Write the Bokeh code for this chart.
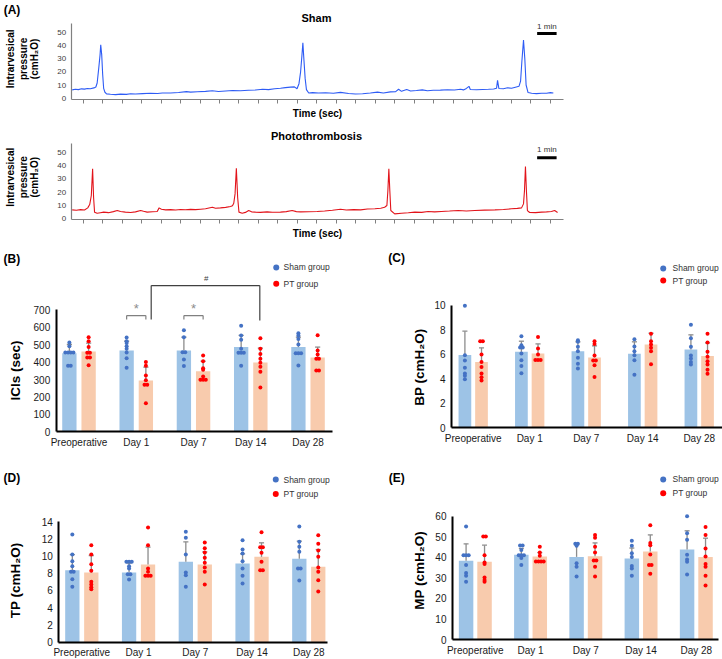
import numpy as np
from bokeh.plotting import figure
from bokeh.layouts import column, row
from bokeh.models import Label, FixedTicker, Range1d
from bokeh.embed import file_html
from bokeh.resources import INLINE

FONT = "Liberation Sans"
SHAM_BAR = "#9DC3E6"
PT_BAR = "#F8CBAD"
SHAM_DOT = "#4472C4"
PT_DOT = "#FF0000"
ERR = "#8C8C8C"
SHAM_LINE = "#2E5CF5"
PT_LINE = "#E2141B"

categories = ["Preoperative", "Day 1", "Day 7", "Day 14", "Day 28"]

# ---------------- (A) cystometry traces (time in s, pressure in cmH2O) ----------------
sham_time = [3, 13, 22, 32, 41, 50, 59, 70, 76, 80, 85, 89, 91, 94, 97, 100, 104, 109, 121, 137,
             152, 170, 183, 198, 220, 244, 266, 281, 306, 331, 355, 368, 389, 414, 435, 454, 476,
             497, 522, 546, 568, 590, 608, 627, 645, 660, 676, 688, 696, 702, 707, 711, 714, 717,
             721, 725, 732, 744, 762, 784, 808, 830, 855, 876, 898, 922, 944, 962, 984, 1000, 1009,
             1018, 1034, 1046, 1064, 1082, 1098, 1116, 1138, 1160, 1181, 1200, 1209, 1218, 1226,
             1230, 1249, 1268, 1286, 1302, 1311, 1314, 1318, 1332, 1345, 1357, 1369, 1380, 1385,
             1389, 1394, 1398, 1402, 1408, 1419, 1434, 1450, 1465, 1477, 1486]
sham_pressure = [6.3, 6.8, 6.5, 7.1, 6.9, 7.4, 7.2, 7.8, 8.5, 11.5, 23, 33, 40.5, 33, 18, 7.5, 4.5,
                 3.3, 3.0, 2.7, 3.1, 2.9, 3.4, 3.2, 3.5, 3.8, 3.6, 4.0, 3.9, 4.3, 5.0, 4.6, 4.9, 5.2,
                 5.6, 5.1, 5.5, 5.8, 5.6, 6.0, 6.2, 6.8, 6.5, 7.2, 7.6, 8.0, 8.4, 8.6, 7.2, 11, 20,
                 32, 42, 30, 15, 6.5, 3.9, 4.2, 3.9, 4.1, 3.7, 4.4, 3.6, 3.2, 3.4, 3.9, 4.6, 4.0, 4.8,
                 5.0, 6.8, 5.2, 6.6, 5.5, 5.8, 6.3, 5.7, 6.0, 6.1, 6.4, 6.2, 6.8, 6.3, 7.4, 9.0, 6.6,
                 6.4, 6.6, 6.8, 7.0, 7.6, 13.5, 7.4, 7.2, 7.9, 7.5, 8.3, 9.0, 13, 28, 44, 30, 10,
                 4.3, 3.7, 3.5, 3.7, 3.8, 4.2, 4.0]
pt_time = [3, 16, 29, 41, 51, 57, 62, 66, 69, 72, 80, 90, 100, 115, 130, 142, 152, 167, 183, 198,
           214, 223, 234, 251, 265, 271, 278, 291, 306, 322, 337, 352, 368, 383, 399, 414, 435, 445,
           460, 476, 491, 497, 501, 505, 509, 513, 517, 527, 537, 547, 556, 568, 583, 604, 620, 645,
           663, 681, 694, 707, 731, 758, 781, 805, 830, 848, 870, 892, 913, 936, 954, 966, 973, 976,
           979, 982, 985, 997, 1018, 1039, 1059, 1080, 1100, 1120, 1141, 1166, 1193, 1218, 1244,
           1274, 1306, 1332, 1357, 1375, 1388, 1394, 1397, 1400, 1403, 1406, 1413, 1431, 1450,
           1465, 1480, 1490, 1499]
pt_pressure = [6.7, 6.4, 6.9, 6.6, 8.2, 10.7, 17.5, 37.5, 16, 5, 4.2, 4.6, 5.0, 4.6, 5.4, 6.2, 5.5,
               5.0, 4.7, 5.2, 6.2, 5.6, 5.0, 5.3, 5.5, 8.2, 7.2, 6.7, 6.9, 6.6, 7.0, 6.8, 7.1, 6.9,
               7.2, 7.5, 8.7, 7.9, 8.2, 8.6, 9.2, 9.8, 11.7, 18.7, 38, 16, 5, 4.2, 4.8, 6.2, 5.2,
               5.0, 4.8, 5.2, 4.9, 5.0, 5.4, 6.2, 5.4, 5.2, 5.3, 5.5, 5.9, 6.4, 7.2, 6.6, 6.9, 6.7,
               7.3, 7.5, 7.9, 8.7, 10, 21, 37.5, 21, 6.2, 3.7, 4.2, 4.5, 5.0, 4.8, 5.5, 5.2, 5.5,
               5.8, 6.2, 5.9, 6.2, 6.5, 6.7, 7.0, 7.5, 7.8, 8.2, 11.2, 21, 39.3, 21, 6.2, 4.7, 4.6,
               5.0, 5.2, 5.5, 6.2, 4.7]
trace_yticks = [0, 10, 20, 30, 40, 50]
trace_xticks = [37, 97, 157, 217, 277, 337, 397, 457, 517, 577, 637, 697, 757, 817, 877, 937,
                997, 1057, 1117, 1177, 1237, 1297, 1357, 1417, 1477]

# ---------------- (B) ICIs (sec) ----------------
ici_sham_mean = [451, 466, 466, 486, 486]
ici_pt_mean = [461, 294, 348, 398, 426]
ici_sham_sd = [50, 54, 77, 67, 57]
ici_pt_sd = [48, 77, 57, 82, 60]
ici_sham_pts = [[512, 491, 455, 455, 455, 455, 379, 379],
                [541, 520, 510, 491, 476, 455, 422, 367],
                [583, 543, 457, 457, 415, 377],
                [608, 553, 528, 476, 453, 453, 453, 379],
                [566, 553, 533, 501, 451, 451, 451, 380]]
ici_pt_pts = [[543, 520, 486, 453, 453, 426, 426, 382],
              [400, 379, 323, 296, 270, 270, 164],
              [438, 405, 365, 356, 317, 298, 298, 298],
              [537, 476, 447, 419, 396, 373, 344, 254],
              [554, 466, 444, 419, 419, 352, 352]]
ici_yticks = [0, 100, 200, 300, 400, 500, 600, 700]

# ---------------- (C) BP ----------------
bp_sham_mean = [5.96, 6.21, 6.26, 6.05, 6.40]
bp_pt_mean = [5.39, 6.07, 5.75, 6.81, 5.88]
bp_sham_sd = [1.94, 0.87, 0.77, 0.98, 1.20]
bp_pt_sd = [1.15, 0.79, 0.95, 0.92, 1.06]
bp_sham_pts = [[9.97, 5.94, 5.5, 4.9, 4.44, 4.25, 3.97],
               [7.49, 6.75, 6.56, 6.56, 6.07, 5.53, 5.06, 4.46],
               [7.16, 7.03, 6.62, 6.26, 5.72, 5.23, 4.85],
               [7.24, 6.64, 6.26, 5.94, 5.53, 4.33],
               [8.42, 7.33, 6.62, 5.91, 5.66, 5.39, 5.17]]
bp_pt_pts = [[7.08, 7.08, 5.99, 5.39, 4.98, 4.44, 4.14, 3.86],
             [7.43, 6.48, 5.99, 5.55, 5.55, 5.55],
             [7.08, 6.86, 5.91, 5.5, 5.5, 5.12, 4.16],
             [7.7, 7.08, 6.81, 6.54, 6.26, 5.2],
             [7.68, 6.97, 6.21, 5.8, 5.45, 5.17, 4.74, 4.41]]
bp_yticks = [0, 2, 4, 6, 8, 10]

# ---------------- (D) TP ----------------
tp_sham_mean = [8.36, 8.09, 9.32, 9.13, 9.67]
tp_pt_mean = [8.09, 9.01, 9.01, 9.90, 8.74]
tp_sham_sd = [1.81, 1.10, 2.32, 1.12, 2.05]
tp_pt_sd = [1.97, 2.01, 1.47, 1.63, 2.01]
tp_sham_pts = [[12.5, 10.17, 9.4, 8.82, 8.16, 8.16, 7.31, 6.42],
               [9.32, 9.32, 9.32, 8.82, 8.55, 7.89, 7.89, 7.27],
               [12.8, 12.11, 10.17, 8.09, 7.78, 6.42],
               [11.84, 10.75, 10.29, 9.4, 8.55, 7.7, 6.81],
               [13.42, 11.64, 11.06, 10.48, 8.55, 8.55, 7.16]]
tp_pt_pts = [[11.26, 10.17, 9.05, 8.28, 7.0, 6.69, 6.38, 6.15],
             [13.31, 11.26, 8.55, 8.16, 7.7, 7.7, 7.7],
             [11.57, 10.91, 10.4, 9.79, 9.21, 8.67, 8.16, 6.69],
             [12.76, 11.02, 11.02, 10.37, 9.32, 8.36, 8.36],
             [12.42, 11.41, 10.64, 9.9, 8.67, 8.16, 7.2, 5.88]]
tp_yticks = [0, 2, 4, 6, 8, 10, 12, 14]

# ---------------- (E) MP ----------------
mp_sham_mean = [38.3, 41.2, 40.2, 39.4, 43.8]
mp_pt_mean = [37.8, 40.4, 40.55, 42.8, 40.1]
mp_sham_sd = [8.25, 3.1, 5.9, 5.1, 9.1]
mp_pt_sd = [8.1, 1.9, 6.45, 8.1, 9.2]
mp_sham_pts = [[55.0, 41.0, 41.0, 41.0, 36.2, 32.3, 31.0, 28.1],
               [45.7, 45.7, 43.5, 41.0, 41.0, 41.0, 39.6, 36.3],
               [46.6, 46.6, 45.6, 37.1, 35.4, 30.7],
               [48.0, 45.6, 42.0, 40.2, 35.8, 34.6, 31.0],
               [60.0, 51.7, 48.5, 41.2, 38.9, 37.8, 31.6]]
mp_pt_pts = [[50.1, 50.1, 41.0, 37.5, 36.8, 30.2, 28.9, 28.1],
             [45.1, 42.3, 40.7, 38.0, 38.0, 38.0, 38.0],
             [50.9, 49.5, 45.1, 42.3, 38.4, 38.4, 35.4, 30.7],
             [55.6, 47.0, 45.9, 41.4, 36.2, 36.2, 32.0],
             [54.7, 50.8, 44.3, 40.4, 36.7, 35.4, 31.0, 26.3]]
mp_yticks = [0, 10, 20, 30, 40, 50, 60]


def add_label(f, x, y, text, size, bold=False, align="left", baseline="middle",
              angle=0.0, color="#000000"):
    f.add_layout(Label(x=x, y=y, text=text, text_font=FONT, text_font_size=size,
                       text_font_style="bold" if bold else "normal", text_align=align,
                       text_baseline=baseline, angle=angle, text_color=color))


def base_fig(width, height, xr, yr):
    # the frame fills the whole canvas; axes are pinned with fixed_location
    f = figure(width=width, height=height, x_range=Range1d(*xr), y_range=Range1d(*yr),
               output_backend="svg", toolbar_location=None,
               min_border_left=0, min_border_right=0, min_border_top=0, min_border_bottom=0)
    f.outline_line_color = None
    f.title.visible = False
    f.xgrid.visible = False
    f.ygrid.visible = False
    f.background_fill_color = "white"
    f.border_fill_color = "white"
    for ax in (f.xaxis, f.yaxis):
        ax.minor_tick_line_color = None
        ax.major_label_text_font = FONT
        ax.major_tick_in = 0
        ax.major_tick_out = 0
    return f


def trace_fig(t, p, color, title, height, yr, ylab_y, title_y, time_y, bar_y, min_y, tag):
    f = base_fig(722, height, (-217.9, 2007.3), yr)
    f.line(t, p, line_color=color, line_width=1.1)
    f.xaxis.fixed_location = -0.75
    f.xaxis.bounds = (0, 1517)
    f.xaxis.ticker = FixedTicker(ticks=trace_xticks)
    f.xaxis.major_label_text_font_size = "1px"
    f.xaxis.major_label_text_alpha = 0
    f.xaxis.major_tick_out = 4
    f.xaxis.major_tick_line_color = "#808080"
    f.xaxis.axis_line_color = "#808080"
    f.xaxis.axis_line_width = 1.2
    f.yaxis.fixed_location = 0
    f.yaxis.bounds = (-0.75, 56.4)
    f.yaxis.ticker = FixedTicker(ticks=trace_yticks)
    f.yaxis.major_tick_line_color = None
    f.yaxis.axis_line_color = "#808080"
    f.yaxis.axis_line_width = 1.2
    f.yaxis.major_label_text_font_size = "8px"
    f.yaxis.major_label_text_color = "#404040"
    f.yaxis.major_label_standoff = 5
    # 1 min scale bar
    f.segment(x0=[1436], y0=[bar_y], x1=[1496], y1=[bar_y], line_color="black", line_width=3)
    add_label(f, 1466, min_y, "1 min", "8px", align="center", color="#333333")
    add_label(f, 756, title_y, title, "11px", bold=True, align="center")
    add_label(f, 759, time_y, "Time (sec)", "10px", bold=True, align="center")
    for xx, txt in ((-187, "Intrarvesical"), (-146, "pressure"), (-112, "(cmH\u2082O)")):
        add_label(f, xx, ylab_y, txt, "10px", bold=True, align="center", angle=np.pi / 2)
    if tag:
        add_label(f, -208, 67.2, tag, "12px", bold=True)
    return f


def spread(vals, center, step=0.047):
    counts = {}
    for v in vals:
        counts[v] = counts.get(v, 0) + 1
    seen = {}
    xs = []
    for v in vals:
        n = counts[v]
        k = seen.get(v, 0)
        seen[v] = k + 1
        xs.append(center + (k - (n - 1) / 2.0) * step)
    return xs


def bar_fig(cfg, sm, pm, ssd, psd, spts, ppts, yticks, ylabel, tag):
    f = base_fig(cfg["w"], cfg["h"], cfg["xr"], cfg["yr"])
    idx = np.arange(len(categories))
    off, bw, cap = cfg["off"], cfg["bw"], 0.045
    f.vbar(x=idx - off, top=sm, width=bw, fill_color=SHAM_BAR, line_color=None)
    f.vbar(x=idx + off, top=pm, width=bw, fill_color=PT_BAR, line_color=None)
    for xs, m, sd in ((idx - off, sm, ssd), (idx + off, pm, psd)):
        m = np.array(m, dtype=float)
        tops = m + np.array(sd, dtype=float)
        f.segment(x0=xs, y0=m, x1=xs, y1=tops, line_color=ERR, line_width=1.3)
        f.segment(x0=xs - cap, y0=tops, x1=xs + cap, y1=tops, line_color=ERR, line_width=1.3)
    for sign, pts, col in ((-1, spts, SHAM_DOT), (1, ppts, PT_DOT)):
        X, Y = [], []
        for i, vals in enumerate(pts):
            X += spread(vals, i + sign * off)
            Y += list(vals)
        f.scatter(X, Y, size=4, fill_color=col, line_color=None)
    # axes pinned at the data origin of the bar area
    x0, x1 = cfg["xaxis"]
    f.xaxis.fixed_location = 0
    f.xaxis.bounds = (x0, x1)
    f.yaxis.fixed_location = x0
    f.xaxis.ticker = FixedTicker(ticks=list(range(len(categories))))
    f.xaxis.major_label_overrides = {i: c for i, c in enumerate(categories)}
    f.yaxis.ticker = FixedTicker(ticks=yticks)
    f.yaxis.bounds = (yticks[0], yticks[-1])
    for ax in (f.xaxis, f.yaxis):
        ax.major_tick_line_color = None
        ax.axis_line_color = "black"
        ax.axis_line_width = 2
        ax.major_label_text_font_size = "10px"
        ax.major_label_text_color = "#1a1a1a"
    f.xaxis.major_label_standoff = 5
    f.yaxis.major_label_standoff = 6
    # legend-like markers
    lx, tx, y1, y2 = cfg["leg"]
    f.scatter([lx], [y1], size=6, fill_color=SHAM_DOT, line_color=None)
    f.scatter([lx], [y2], size=6, fill_color=PT_DOT, line_color=None)
    add_label(f, tx, y1, "Sham group", "8.5px", color="#333333")
    add_label(f, tx, y2, "PT group", "8.5px", color="#333333")
    # labels
    add_label(f, cfg["tag"][0], cfg["tag"][1], tag, "12px", bold=True)
    add_label(f, cfg["ylab"][0], cfg["ylab"][1], ylabel, "13.5px", bold=True,
              align="center", angle=np.pi / 2)
    return f


fa1 = trace_fig(sham_time, sham_pressure, SHAM_LINE, "Sham", 124, (-19.92, 74.02),
                29.8, 61.1, -11.6, 49.0, 54.3, "(A)")
fa2 = trace_fig(pt_time, pt_pressure, PT_LINE, "Photothrombosis", 121, (-20.05, 70.8),
                31.2, 62.5, -10.8, 45.8, 52.0, None)

cfg_b = dict(w=361, h=220, xr=(-1.371, 4.934), yr=(-193.3, 1068.9), xaxis=(-0.398, 4.423),
             off=0.168, bw=0.25, leg=(3.445, 3.572, 943, 850), tag=(-1.319, 994),
             ylab=(-1.109, 352))
cfg_c = dict(w=361, h=220, xr=(-1.977, 4.412), yr=(-3.083, 14.906), xaxis=(-0.384, 4.412),
             off=0.147, bw=0.225, leg=(3.363, 3.527, 13.03, 12.04), tag=(-1.504, 13.87),
             ylab=(-0.945, 4.96))
cfg_d = dict(w=361, h=194, xr=(-1.433, 4.929), yr=(-2.007, 20.50), xaxis=(-0.405, 4.33),
             off=0.167, bw=0.252, leg=(3.418, 3.554, 18.87, 17.2), tag=(-1.38, 19.05),
             ylab=(-1.168, 7.16))
cfg_e = dict(w=361, h=194, xr=(-2.060, 4.474), yr=(-9.73, 84.67), xaxis=(-0.413, 4.402),
             off=0.167, bw=0.262, leg=(3.401, 3.569, 77.9, 71.2), tag=(-1.566, 78.8),
             ylab=(-1.005, 33.6))

fb = bar_fig(cfg_b, ici_sham_mean, ici_pt_mean, ici_sham_sd, ici_pt_sd, ici_sham_pts,
             ici_pt_pts, ici_yticks, "ICIs (sec)", "(B)")
# significance brackets (B)
fb.segment(x0=[0.832, 0.832, 1.168, 1.832, 1.832, 2.168],
           y0=[644, 667, 667, 644, 667, 667],
           x1=[0.832, 1.168, 1.168, 1.832, 2.168, 2.168],
           y1=[667, 667, 644, 667, 667, 644], line_color="#808080", line_width=1.2)
fb.segment(x0=[1.261, 1.261, 3.158], y0=[645, 839, 839],
           x1=[1.261, 3.158, 3.158], y1=[839, 839, 639], line_color="#404040", line_width=1.2)
add_label(fb, 1.0, 706, "*", "13px", align="center", color="#8C8C8C")
add_label(fb, 2.0, 706, "*", "13px", align="center", color="#8C8C8C")
add_label(fb, 2.222, 877, "#", "8px", align="center", color="#404040")

fc = bar_fig(cfg_c, bp_sham_mean, bp_pt_mean, bp_sham_sd, bp_pt_sd, bp_sham_pts, bp_pt_pts,
             bp_yticks, "BP (cmH\u2082O)", "(C)")
fd = bar_fig(cfg_d, tp_sham_mean, tp_pt_mean, tp_sham_sd, tp_pt_sd, tp_sham_pts, tp_pt_pts,
             tp_yticks, "TP (cmH\u2082O)", "(D)")
fe = bar_fig(cfg_e, mp_sham_mean, mp_pt_mean, mp_sham_sd, mp_pt_sd, mp_sham_pts, mp_pt_pts,
             mp_yticks, "MP (cmH\u2082O)", "(E)")

layout = column(fa1, fa2, row(fb, fc, spacing=0), row(fd, fe, spacing=0), spacing=0)

with open("out.html", "w") as fh:
    fh.write(file_html(layout, INLINE, title="Cystometry"))
